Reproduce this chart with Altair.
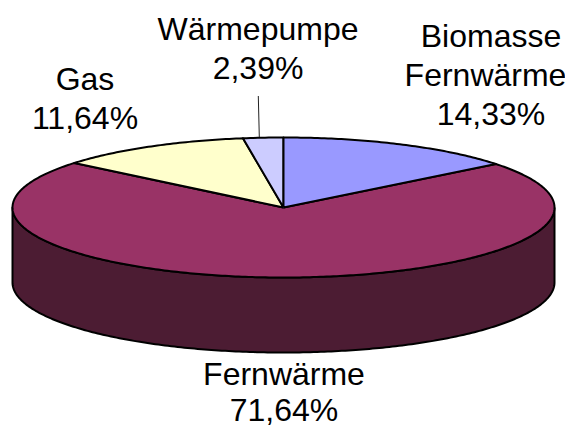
import numpy as np
import pandas as pd
import altair as alt

labels = ["Biomasse Fernwärme", "Fernwärme", "Gas", "Wärmepumpe"]
shares = [14.33, 71.64, 11.64, 2.39]
share_text = ["14,33%", "71,64%", "11,64%", "2,39%"]
colors = ["#9999FF", "#993366", "#FFFFCC", "#CCCCFF"]
wall_color = "#4C1C33"

W, H = 557, 419
CX, CY, RX, RY, DEPTH = 275.5, 199.5, 271, 70, 75
FONT = "Liberation Sans"
FS = 32

xs = alt.Scale(domain=[0, W], range=[0, W], nice=False, zero=False)
ys = alt.Scale(domain=[0, H], range=[0, H], nice=False, zero=False)


def ellipse(theta, dy=0.0):
    return CX + RX * np.sin(theta), CY - RY * np.cos(theta) + dy


def polygon(px, py, color, width=2.0):
    px, py = list(px) + [px[0]], list(py) + [py[0]]
    df = pd.DataFrame({"x": px, "y": py, "i": range(len(px))})
    return alt.Chart(df).mark_line(
        fill=color, stroke="black", strokeWidth=width, strokeJoin="round", interpolate="linear", clip=False
    ).encode(
        x=alt.X("x:Q", scale=xs, axis=None),
        y=alt.Y("y:Q", scale=ys, axis=None),
        order="i:Q",
    )


layers = []

# side wall
t = np.linspace(np.pi / 2, 3 * np.pi / 2, 240)
tx, ty = ellipse(t)
bx, by = ellipse(t[::-1], DEPTH)
layers.append(polygon(np.r_[tx, bx], np.r_[ty, by], wall_color))

# top slices, clockwise from 12 o'clock
edges = np.r_[0, np.cumsum(shares)] / 100 * 2 * np.pi
for idx in [1, 2, 3, 0]:
    n = max(8, int((edges[idx + 1] - edges[idx]) * 80))
    t = np.linspace(edges[idx], edges[idx + 1], n)
    ex, ey = ellipse(t)
    layers.append(polygon(np.r_[CX, ex], np.r_[CY, ey], colors[idx]))

# leader line of Wärmepumpe
leader = pd.DataFrame({"x": [250.3], "x2": [251.3], "y": [88.0], "y2": [129.0]})
layers.append(
    alt.Chart(leader).mark_rule(color="#222222", strokeWidth=1).encode(
        x=alt.X("x:Q", scale=xs, axis=None), x2="x2:Q",
        y=alt.Y("y:Q", scale=ys, axis=None), y2="y2:Q",
    )
)

# labels: (text, x, y) — the lines nearest the page edges are nudged inwards to stay on the page
rows = [
    {"t": "Biomasse", "x": 483, "y": 29},
    {"t": "Fernwärme", "x": 477.5, "y": 68},
    {"t": share_text[0], "x": 483, "y": 107},
    {"t": labels[1], "x": 276, "y": 367},
    {"t": share_text[1], "x": 276, "y": 403},
    {"t": labels[2], "x": 77, "y": 72},
    {"t": share_text[2], "x": 77, "y": 111},
    {"t": labels[3], "x": 250, "y": 22},
    {"t": share_text[3], "x": 250, "y": 61},
]
layers.append(
    alt.Chart(pd.DataFrame(rows)).mark_text(
        font=FONT, fontSize=FS, color="black", align="center", baseline="middle"
    ).encode(
        x=alt.X("x:Q", scale=xs, axis=None),
        y=alt.Y("y:Q", scale=ys, axis=None),
        text="t:N",
    )
)

chart = alt.layer(*layers).properties(
    width=W, height=H, padding=0, background="white", autosize=alt.AutoSizeParams(type="none")
).configure_view(stroke=None)

chart.save("out.html", embed_options={"renderer": "svg", "actions": False})
